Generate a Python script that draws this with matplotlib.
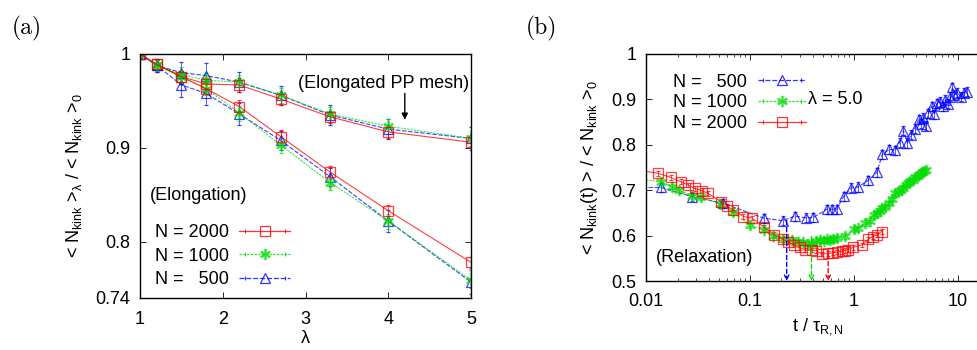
import numpy as np
import matplotlib.pyplot as plt
from matplotlib.lines import Line2D
from matplotlib.legend_handler import HandlerLine2D, HandlerTuple
from matplotlib.ticker import LogLocator, NullFormatter

plt.rcParams['font.family'] = ['Liberation Sans', 'DejaVu Sans']
plt.rcParams['mathtext.fontset'] = 'custom'
plt.rcParams['mathtext.rm'] = 'Liberation Sans'
plt.rcParams['mathtext.it'] = 'Liberation Sans:italic'
plt.rcParams['font.size'] = 13

# ---- (a) elongation: kink number vs stretch ratio ----
lam = [1, 1.2, 1.5, 1.8, 2.2, 2.7, 3.3, 4, 5]

elong_2000 = [1, 0.989, 0.976, 0.963, 0.944, 0.912, 0.874, 0.833, 0.778]
elong_1000 = [1, 0.988, 0.975, 0.963, 0.937, 0.903, 0.863, 0.822, 0.759]
elong_500 = [1, 0.988, 0.967, 0.958, 0.936, 0.908, 0.869, 0.822, 0.757]
elong_2000_err = [0.003, 0.005, 0.006, 0.006, 0.007, 0.007, 0.007, 0.006, 0.006]
elong_1000_err = [0.004, 0.006, 0.007, 0.007, 0.008, 0.008, 0.008, 0.008, 0.008]
elong_500_err = [0.004, 0.007, 0.013, 0.012, 0.012, 0.010, 0.010, 0.012, 0.013]

mesh_2000 = [1, 0.989, 0.976, 0.968, 0.967, 0.952, 0.933, 0.917, 0.906]
mesh_1000 = [1, 0.988, 0.978, 0.972, 0.970, 0.956, 0.936, 0.923, 0.910]
mesh_500 = [1, 0.988, 0.980, 0.977, 0.970, 0.956, 0.935, 0.920, 0.910]
mesh_2000_err = [0.003, 0.005, 0.006, 0.006, 0.007, 0.006, 0.006, 0.006, 0.006]
mesh_1000_err = [0.004, 0.006, 0.008, 0.008, 0.008, 0.008, 0.008, 0.008, 0.008]
mesh_500_err = [0.004, 0.007, 0.012, 0.013, 0.011, 0.010, 0.011, 0.011, 0.012]

# ---- (b) relaxation at lambda = 5 ----
t_2000 = [0.008, 0.01305, 0.0173, 0.0214, 0.0254, 0.0294, 0.0342, 0.0391, 0.0525,
          0.0603, 0.0689, 0.0861, 0.1035, 0.137, 0.171, 0.206, 0.233, 0.265,
          0.302, 0.338, 0.394, 0.431, 0.49, 0.567, 0.634, 0.692, 0.763, 0.821,
          0.883, 0.973, 1.19, 1.38, 1.52, 1.66, 1.85]
k_2000 = [0.745, 0.737, 0.728, 0.719, 0.711, 0.704, 0.699, 0.693, 0.675,
          0.665, 0.656, 0.642, 0.639, 0.618, 0.602, 0.592, 0.586, 0.579,
          0.574, 0.568, 0.568, 0.567, 0.559, 0.561, 0.562, 0.564, 0.565, 0.567,
          0.569, 0.574, 0.579, 0.592, 0.598, 0.601, 0.609]

t_1000 = [0.008, 0.0138, 0.0176, 0.0207, 0.0274, 0.0336, 0.0513, 0.0689, 0.1,
          0.136, 0.167, 0.209, 0.251, 0.29, 0.326, 0.36, 0.392, 0.43, 0.471,
          0.51, 0.547, 0.59, 0.634, 0.68, 0.82, 1.0, 1.1, 1.29, 1.44, 1.55,
          1.67, 1.78, 1.87, 2.0, 2.17, 2.35, 2.51, 2.65, 2.81, 3.0, 3.15, 3.32,
          3.5, 3.7, 3.9, 4.1, 4.3, 4.5, 4.7, 4.9]
k_1000 = [0.725, 0.719, 0.708, 0.700, 0.687, 0.684, 0.670, 0.651, 0.623,
          0.613, 0.600, 0.593, 0.590, 0.587, 0.585, 0.582, 0.582, 0.588, 0.591,
          0.589, 0.592, 0.590, 0.593, 0.595, 0.599, 0.614, 0.616, 0.628, 0.633, 0.645,
          0.649, 0.655, 0.660, 0.664, 0.671, 0.680, 0.693, 0.697, 0.701, 0.705, 0.712, 0.716,
          0.720, 0.722, 0.728, 0.732, 0.736, 0.740, 0.742, 0.745]

t_500 = [0.007, 0.0138, 0.0274, 0.0552, 0.137, 0.206, 0.27, 0.345, 0.407,
         0.547, 0.61, 0.68, 0.80, 0.94, 1.09, 1.38, 1.66, 1.88, 2.2, 2.5,
         2.75, 3.0, 3.27, 3.55, 3.85, 4.2, 4.4, 4.65, 4.95, 5.2, 5.6, 5.95,
         6.3, 6.7, 7.2, 7.6, 8.0, 8.5, 8.9, 9.3, 9.9, 10.7, 11.4, 12.3]
k_500 = [0.706, 0.706, 0.686, 0.671, 0.638, 0.633, 0.643, 0.639, 0.640,
         0.658, 0.658, 0.658, 0.687, 0.705, 0.707, 0.722, 0.739, 0.779, 0.790, 0.788,
         0.805, 0.831, 0.804, 0.822, 0.835, 0.856, 0.846, 0.860, 0.842, 0.869, 0.885, 0.867,
         0.891, 0.895, 0.885, 0.899, 0.890, 0.906, 0.927, 0.910, 0.915, 0.906, 0.915, 0.917]

# position of the minimum for each chain length
t_min = [0.225, 0.39, 0.565]
k_min = [0.633, 0.598, 0.558]

RED = '#ff0000'
GREEN = '#00dd00'
BLUE = '#0000ff'

styles = {
    2000: dict(color=RED, marker='s', ls='-', ms=7),
    1000: dict(color=GREEN, marker='*', ls=(0, (2, 1)), ms=7.5),
    500: dict(color=BLUE, marker='^', ls=(0, (4, 1.5)), ms=7),
}


def draw(ax, x, y, err, n):
    st = styles[n]
    marker = '$\\ast$' if st['marker'] == '*' else st['marker']
    ax.errorbar(x, y, yerr=err, color=st['color'], ls=st['ls'], lw=0.8,
                marker=marker, ms=st['ms'], mfc='none', mec=st['color'], mew=0.9,
                elinewidth=0.6, capsize=1.5, capthick=0.6, alpha=0.75)


def handle(n):
    st = styles[n]
    marker = '$\\ast$' if st['marker'] == '*' else st['marker']
    main = Line2D([], [], color=st['color'], ls=st['ls'], lw=0.9, marker=marker,
                  ms=st['ms'], mfc='none', mec=st['color'], mew=0.9, alpha=0.8)
    caps = Line2D([], [], color=st['color'], ls='none', marker='|', ms=3, mew=0.8,
                  alpha=0.8)
    return (main, caps), caps


def style_ticks(ax):
    ax.tick_params(which='both', direction='in', top=True, right=True,
                   labelsize=13)
    ax.tick_params(which='major', length=4.5, width=0.6)
    ax.tick_params(which='minor', length=2.5, width=0.5)
    for s in ax.spines.values():
        s.set_linewidth(1.0)


fig = plt.figure(figsize=(9.78, 3.5), dpi=100)
ax1 = fig.add_axes([140 / 978, 1 - 298 / 350, 331 / 978, 244 / 350])
ax2 = fig.add_axes([646.3 / 978, 1 - 281 / 350, 342.7 / 978, 227 / 350])

# panel (a)
for n, y, e in [(500, elong_500, elong_500_err), (1000, elong_1000, elong_1000_err),
                (2000, elong_2000, elong_2000_err), (500, mesh_500, mesh_500_err),
                (1000, mesh_1000, mesh_1000_err), (2000, mesh_2000, mesh_2000_err)]:
    draw(ax1, lam, y, e, n)

ax1.set_xlim(1, 5)
ax1.set_ylim(0.74, 1.0)
ax1.set_xticks([1, 2, 3, 4, 5])
ax1.set_yticks([0.74, 0.8, 0.9, 1.0])
ax1.set_yticklabels(['0.74', '0.8', '0.9', '1'])
style_ticks(ax1)
ax1.tick_params(axis='x', pad=9)
ax1.tick_params(axis='y', pad=7)
ax1.set_xlabel('λ', fontsize=13, labelpad=2)
ax1.set_ylabel(r'< N$_{\rm kink}$ >$_{\rm λ}$ / < N$_{\rm kink}$ >$_{\rm 0}$',
               fontsize=13, labelpad=8)
ax1.text(3.94, 0.969, '(Elongated PP mesh)', ha='center', va='center', fontsize=13)
ax1.annotate('', xy=(4.2, 0.930), xytext=(4.2, 0.958),
             arrowprops=dict(arrowstyle='-|>', color='k', lw=1.0,
                             mutation_scale=9, shrinkA=0, shrinkB=0))
ax1.text(1.12, 0.849, '(Elongation)', ha='left', va='center', fontsize=13)

hs, hm = zip(*[handle(n) for n in (2000, 1000, 500)])
ax1.legend(hs, ['N = 2000', 'N = 1000', 'N =   500'], loc='lower left',
           bbox_to_anchor=(-0.005, -0.025), frameon=False, markerfirst=False,
           handlelength=2.8, handletextpad=0.6, labelspacing=0.35, fontsize=13,
           handler_map={tuple: HandlerTuple(ndivide=1),
                        **{c: HandlerLine2D(numpoints=2) for c in hm}})

# panel (b)
draw(ax2, t_500, k_500, 0.010, 500)
draw(ax2, t_1000, k_1000, 0.006, 1000)
draw(ax2, t_2000, k_2000, 0.005, 2000)

for t, k, c in zip(t_min, k_min, [BLUE, GREEN, RED]):
    ax2.annotate('', xy=(t, 0.5), xytext=(t, k),
                 arrowprops=dict(arrowstyle='->', color=c, lw=1.0, ls=(0, (3, 2)),
                                 mutation_scale=8, shrinkA=0, shrinkB=0))

ax2.set_xscale('log')
ax2.set_xlim(0.01, 20)
ax2.set_ylim(0.5, 1.0)
ax2.set_xticks([0.01, 0.1, 1, 10])
ax2.set_xticklabels(['0.01', '0.1', '1', '10'])
ax2.xaxis.set_minor_locator(LogLocator(base=10, subs=np.arange(2, 10)))
ax2.xaxis.set_minor_formatter(NullFormatter())
ax2.set_yticks([0.5, 0.6, 0.7, 0.8, 0.9, 1.0])
ax2.set_yticklabels(['0.5', '0.6', '0.7', '0.8', '0.9', '1'])
style_ticks(ax2)
ax2.tick_params(axis='x', pad=9)
ax2.tick_params(axis='y', pad=7)
ax2.set_xlabel(r't / τ$_{\rm R,N}$', fontsize=13, labelpad=4)
ax2.set_ylabel(r'< N$_{\rm kink}$(t) > / < N$_{\rm kink}$ >$_{\rm 0}$',
               fontsize=13, labelpad=8)
ax2.text(0.0123, 0.551, '(Relaxation)', ha='left', va='center', fontsize=13)
ax2.text(0.36, 0.899, 'λ = 5.0', ha='left', va='center', fontsize=13)

hs, hm = zip(*[handle(n) for n in (500, 1000, 2000)])
ax2.legend(hs, ['N =   500', 'N = 1000', 'N = 2000'], loc='upper left',
           bbox_to_anchor=(0.03, 0.985), frameon=False, markerfirst=False,
           handlelength=2.7, handletextpad=0.6, labelspacing=0.2, fontsize=13,
           handler_map={tuple: HandlerTuple(ndivide=1),
                        **{c: HandlerLine2D(numpoints=2) for c in hm}})

fig.text(12 / 978, 1 - 28 / 350, '(a)', fontfamily='cmr10', fontsize=17, va='center')
fig.text(526 / 978, 1 - 28 / 350, '(b)', fontfamily='cmr10', fontsize=17, va='center')

fig.savefig('out.png', dpi=100)
